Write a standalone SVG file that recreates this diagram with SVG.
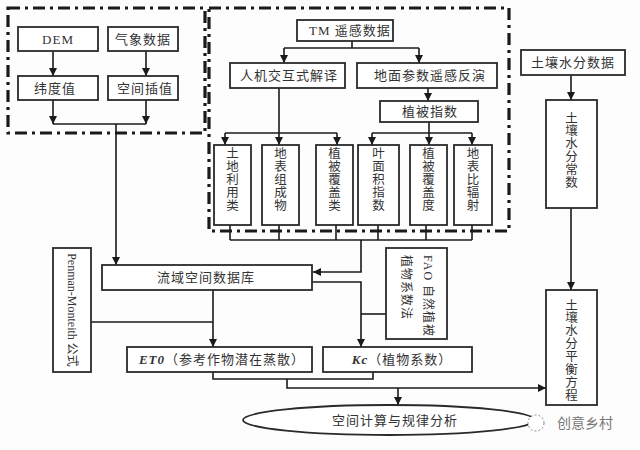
<svg xmlns="http://www.w3.org/2000/svg" width="640" height="450" viewBox="0 0 640 450">
<defs>
<marker id="arr" markerUnits="userSpaceOnUse" markerWidth="8" markerHeight="8" refX="8" refY="4" orient="auto">
<path d="M0,0 L8,4 L0,8 z" fill="#1a1a1a"/>
</marker>
<style>
.bg{fill:#fdfdfd}
.box{fill:#fff;stroke:#2a2a2a;stroke-width:1.8}
.grp{fill:none;stroke:#1a1a1a;stroke-width:3.2;stroke-dasharray:12 5 3 5}
.t{font-family:"Liberation Serif","Noto Sans CJK SC",serif;font-size:13px;fill:#333;text-anchor:middle;letter-spacing:1px}
.v{font-family:"Liberation Serif","Noto Sans CJK SC",serif;font-size:12.5px;fill:#333;text-anchor:middle}
.c line,.c polyline{fill:none;stroke:#1a1a1a;stroke-width:1.6}
.a{marker-end:url(#arr)}
</style>
</defs>
<rect class="bg" x="0" y="0" width="640" height="450"/>

<rect class="grp" x="8" y="8" width="197" height="125"/>
<rect class="grp" x="209" y="8" width="300" height="223"/>

<g class="c" id="connectors">
<line class="a" x1="53" y1="51" x2="53" y2="76"/>
<line class="a" x1="146" y1="51" x2="146" y2="76"/>
<line class="a" x1="53" y1="100" x2="53" y2="124"/>
<line class="a" x1="146" y1="100" x2="146" y2="124"/>
<line x1="53" y1="124" x2="146" y2="124"/>
<line class="a" x1="116" y1="124" x2="116" y2="265"/>

<line x1="352" y1="41" x2="352" y2="48"/>
<line x1="284" y1="48" x2="419" y2="48"/>
<line class="a" x1="284" y1="48" x2="284" y2="63"/>
<line class="a" x1="419" y1="48" x2="419" y2="63"/>
<line class="a" x1="428" y1="88" x2="428" y2="101"/>
<line x1="279" y1="88" x2="279" y2="133"/>
<line x1="225" y1="133" x2="337" y2="133"/>
<line class="a" x1="225" y1="133" x2="225" y2="145"/>
<line class="a" x1="279" y1="133" x2="279" y2="145"/>
<line class="a" x1="337" y1="133" x2="337" y2="145"/>
<line x1="429" y1="122" x2="429" y2="133"/>
<line x1="372" y1="133" x2="472" y2="133"/>
<line class="a" x1="372" y1="133" x2="372" y2="145"/>
<line class="a" x1="429" y1="133" x2="429" y2="145"/>
<line class="a" x1="472" y1="133" x2="472" y2="145"/>

<line x1="230" y1="225" x2="230" y2="240"/>
<line x1="279" y1="225" x2="279" y2="240"/>
<line x1="336" y1="225" x2="336" y2="240"/>
<line x1="378" y1="225" x2="378" y2="240"/>
<line x1="426" y1="225" x2="426" y2="240"/>
<line x1="472" y1="225" x2="472" y2="240"/>
<line x1="230" y1="240" x2="472" y2="240"/>
<polyline class="a" points="361,240 361,272 313,272"/>

<polyline class="a" points="312,282 361,282 361,347"/>
<line x1="386" y1="314" x2="361" y2="314"/>
<line class="a" x1="213" y1="290" x2="213" y2="347"/>
<line x1="91" y1="322" x2="213" y2="322"/>

<polyline points="213,372 213,379 373,379 373,372"/>
<polyline class="a" points="287,379 287,388 546,388"/>
<line class="a" x1="398" y1="388" x2="398" y2="405"/>

<line class="a" x1="571" y1="75" x2="571" y2="100"/>
<line class="a" x1="571" y1="208" x2="571" y2="290"/>
</g>

<g id="dem"><rect class="box" x="18" y="27" width="80" height="24"/><text class="t" x="58" y="43.5">DEM</text></g>
<g id="qixiang"><rect class="box" x="108" y="27" width="70" height="24"/><text class="t" x="143" y="43.5">气象数据</text></g>
<g id="weidu"><rect class="box" x="18" y="76" width="80" height="24"/><text class="t" x="55" y="92.5">纬度值</text></g>
<g id="chazhi"><rect class="box" x="108" y="76" width="70" height="24"/><text class="t" x="145" y="92.5">空间插值</text></g>

<g id="tm"><rect class="box" x="297" y="20" width="96" height="21"/><text class="t" x="350" y="35">TM 遥感数据</text></g>
<g id="renji"><rect class="box" x="230" y="63" width="115" height="25"/><text class="t" x="289" y="80">人机交互式解译</text></g>
<g id="dimian"><rect class="box" x="357" y="63" width="140" height="25"/><text class="t" x="430" y="80">地面参数遥感反演</text></g>
<g id="zhibei"><rect class="box" x="380" y="101" width="98" height="21"/><text class="t" x="430" y="116">植被指数</text></g>

<g id="b1"><rect class="box" x="214" y="145" width="37" height="80"/>
<text class="v" x="232.5" y="157.5">土</text><text class="v" x="232.5" y="170.5">地</text><text class="v" x="232.5" y="183.5">利</text><text class="v" x="232.5" y="196.5">用</text><text class="v" x="232.5" y="209.5">类</text></g>
<g id="b2"><rect class="box" x="262" y="145" width="37" height="80"/>
<text class="v" x="280.5" y="157.5">地</text><text class="v" x="280.5" y="170.5">表</text><text class="v" x="280.5" y="183.5">组</text><text class="v" x="280.5" y="196.5">成</text><text class="v" x="280.5" y="209.5">物</text></g>
<g id="b3"><rect class="box" x="316" y="145" width="37" height="80"/>
<text class="v" x="334.5" y="157.5">植</text><text class="v" x="334.5" y="170.5">被</text><text class="v" x="334.5" y="183.5">覆</text><text class="v" x="334.5" y="196.5">盖</text><text class="v" x="334.5" y="209.5">类</text></g>
<g id="b4"><rect class="box" x="358" y="145" width="41" height="80"/>
<text class="v" x="378.5" y="157.5">叶</text><text class="v" x="378.5" y="170.5">面</text><text class="v" x="378.5" y="183.5">积</text><text class="v" x="378.5" y="196.5">指</text><text class="v" x="378.5" y="209.5">数</text></g>
<g id="b5"><rect class="box" x="410" y="145" width="37" height="80"/>
<text class="v" x="428.5" y="157.5">植</text><text class="v" x="428.5" y="170.5">被</text><text class="v" x="428.5" y="183.5">覆</text><text class="v" x="428.5" y="196.5">盖</text><text class="v" x="428.5" y="209.5">度</text></g>
<g id="b6"><rect class="box" x="454" y="145" width="38" height="80"/>
<text class="v" x="473" y="157.5">地</text><text class="v" x="473" y="170.5">表</text><text class="v" x="473" y="183.5">比</text><text class="v" x="473" y="196.5">辐</text><text class="v" x="473" y="209.5">射</text></g>

<g id="liuyu"><rect class="box" x="102" y="265" width="210" height="25"/><text class="t" x="206" y="282">流域空间数据库</text></g>
<g id="penman"><rect class="box" x="53" y="248" width="38" height="124"/>
<text class="v" transform="translate(72,310) rotate(90)" x="0" y="4.5" style="font-size:12px">Penman-Monteith 公式</text></g>
<g id="fao"><rect class="box" x="386" y="248" width="61" height="91"/>
<text class="v" transform="translate(416,255) rotate(90)" style="text-anchor:start;font-size:12px;letter-spacing:1px"><tspan x="0" y="-8">FAO 自然植被</tspan><tspan x="0" y="14">植物系数法</tspan></text></g>
<g id="et0"><rect class="box" x="127" y="347" width="185" height="25"/><text class="t" x="222" y="364"><tspan font-style="italic" font-weight="bold">ET0</tspan>（参考作物潜在蒸散）</text></g>
<g id="kc"><rect class="box" x="323" y="347" width="149" height="25"/><text class="t" x="402" y="364"><tspan font-style="italic" font-weight="bold">Kc</tspan>（植物系数）</text></g>
<g id="analysis"><ellipse class="box" cx="389" cy="420" rx="146" ry="15"/><text class="t" x="395" y="424.5">空间计算与规律分析</text></g>

<g id="soildata"><rect class="box" x="521" y="50" width="104" height="25"/><text class="t" x="573" y="67">土壤水分数据</text></g>
<g id="soilconst"><rect class="box" x="546" y="100" width="51" height="108"/>
<text class="v" x="571.5" y="122.5">土</text><text class="v" x="571.5" y="135.3">壤</text><text class="v" x="571.5" y="148.1">水</text><text class="v" x="571.5" y="160.9">分</text><text class="v" x="571.5" y="173.7">常</text><text class="v" x="571.5" y="186.5">数</text></g>
<g id="soilbal"><rect class="box" x="546" y="290" width="51" height="115"/>
<text class="v" x="571.5" y="309.5">土</text><text class="v" x="571.5" y="322.4">壤</text><text class="v" x="571.5" y="335.2">水</text><text class="v" x="571.5" y="348.1">分</text><text class="v" x="571.5" y="360.9">平</text><text class="v" x="571.5" y="373.8">衡</text><text class="v" x="571.5" y="386.6">方</text><text class="v" x="571.5" y="399.5">程</text></g>

<g id="watermark">
<circle cx="536" cy="423" r="8" fill="#fff" stroke="#888" stroke-width="1" stroke-dasharray="2 2"/>
<text x="557" y="428" style="font-family:'Noto Sans CJK SC',sans-serif;font-size:14px;fill:#777">创意乡村</text>
</g>
</svg>
